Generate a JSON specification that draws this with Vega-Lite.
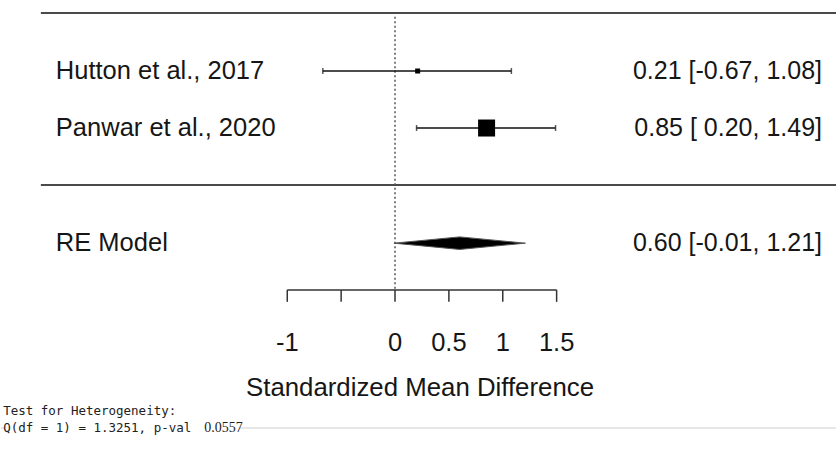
{
  "$schema": "https://vega.github.io/schema/vega-lite/v6.json",
  "width": 837,
  "height": 452,
  "autosize": {"type": "fit", "contains": "padding"},
  "padding": 0,
  "background": "white",
  "config": {"view": {"stroke": null}},
  "datasets": {
    "studies": [
      {"study": "Hutton et al., 2017", "est": 0.21, "lo": -0.67, "hi": 1.08, "row": 2, "weight": 5.0, "ci": "0.21 [-0.67, 1.08]"},
      {"study": "Panwar et al., 2020", "est": 0.85, "lo": 0.20, "hi": 1.49, "row": 1, "weight": 9.2, "ci": "0.85 [ 0.20, 1.49]"}
    ],
    "labels": [
      {"label": "Hutton et al., 2017", "ci": "0.21 [-0.67, 1.08]", "row": 2},
      {"label": "Panwar et al., 2020", "ci": "0.85 [ 0.20, 1.49]", "row": 1},
      {"label": "RE Model", "ci": "0.60 [-0.01, 1.21]", "row": -1.02}
    ],
    "diamond": [
      {"v": -0.01, "top": -1.02, "bot": -1.02},
      {"v": 0.60, "top": -0.91, "bot": -1.13},
      {"v": 1.21, "top": -1.02, "bot": -1.02}
    ],
    "hlines": [
      {"v1": -3.287, "v2": 4.093, "r": 3.02},
      {"v1": -3.287, "v2": 4.093, "r": 0.0}
    ],
    "ticks": [{"v": -1}, {"v": -0.5}, {"v": 0}, {"v": 0.5}, {"v": 1}, {"v": 1.5}],
    "ticklabels": [{"v": -1, "t": "-1"}, {"v": 0, "t": "0"}, {"v": 0.5, "t": "0.5"}, {"v": 1, "t": "1"}, {"v": 1.5, "t": "1.5"}],
    "footer": [
      {"t": "Test for Heterogeneity:", "r": -3.96},
      {"t": "Q(df = 1) = 1.3251, p-val", "r": -4.27}
    ],
    "grayline": [
      {"v1": -3.657, "v2": -3.63, "r": -4.263},
      {"v1": -1.44, "v2": 4.093, "r": -4.263}
    ]
  },
  "layer": [
    {
      "data": {"name": "hlines"},
      "mark": {"type": "rule", "color": "#4a4a4a", "strokeWidth": 2},
      "encoding": {
        "x": {"field": "v1", "type": "quantitative", "scale": {"domain": [-3.657, 4.093], "nice": false, "zero": false}, "axis": null},
        "x2": {"field": "v2"},
        "y": {"field": "r", "type": "quantitative", "scale": {"domain": [-4.684, 3.246], "nice": false, "zero": false}, "axis": null}
      }
    },
    {
      "data": {"name": "grayline"},
      "mark": {"type": "rule", "color": "#cfcfcf", "strokeWidth": 1},
      "encoding": {
        "x": {"field": "v1", "type": "quantitative", "scale": {"domain": [-3.657, 4.093], "nice": false, "zero": false}, "axis": null},
        "x2": {"field": "v2"},
        "y": {"field": "r", "type": "quantitative", "scale": {"domain": [-4.684, 3.246], "nice": false, "zero": false}, "axis": null}
      }
    },
    {
      "data": {"values": [{"v": 0, "r1": 2.95, "r2": -1.84}]},
      "mark": {"type": "rule", "color": "#555555", "strokeWidth": 1.5, "strokeDash": [2, 2.5]},
      "encoding": {
        "x": {"field": "v", "type": "quantitative", "scale": {"domain": [-3.657, 4.093], "nice": false, "zero": false}, "axis": null},
        "y": {"field": "r1", "type": "quantitative", "scale": {"domain": [-4.684, 3.246], "nice": false, "zero": false}, "axis": null},
        "y2": {"field": "r2"}
      }
    },
    {
      "data": {"name": "studies"},
      "mark": {"type": "rule", "color": "#111111", "strokeWidth": 1.5},
      "encoding": {
        "x": {"field": "lo", "type": "quantitative", "scale": {"domain": [-3.657, 4.093], "nice": false, "zero": false}, "axis": null},
        "x2": {"field": "hi"},
        "y": {"field": "row", "type": "quantitative", "scale": {"domain": [-4.684, 3.246], "nice": false, "zero": false}, "axis": null}
      }
    },
    {
      "data": {"name": "studies"},
      "mark": {"type": "tick", "orient": "vertical", "color": "#111111", "size": 6, "thickness": 1.5},
      "encoding": {
        "x": {"field": "lo", "type": "quantitative", "scale": {"domain": [-3.657, 4.093], "nice": false, "zero": false}, "axis": null},
        "y": {"field": "row", "type": "quantitative", "scale": {"domain": [-4.684, 3.246], "nice": false, "zero": false}, "axis": null}
      }
    },
    {
      "data": {"name": "studies"},
      "mark": {"type": "tick", "orient": "vertical", "color": "#111111", "size": 6, "thickness": 1.5},
      "encoding": {
        "x": {"field": "hi", "type": "quantitative", "scale": {"domain": [-3.657, 4.093], "nice": false, "zero": false}, "axis": null},
        "y": {"field": "row", "type": "quantitative", "scale": {"domain": [-4.684, 3.246], "nice": false, "zero": false}, "axis": null}
      }
    },
    {
      "data": {"name": "studies"},
      "mark": {"type": "point", "shape": "square", "filled": true, "color": "#000000", "opacity": 1},
      "encoding": {
        "x": {"field": "est", "type": "quantitative", "scale": {"domain": [-3.657, 4.093], "nice": false, "zero": false}, "axis": null},
        "y": {"field": "row", "type": "quantitative", "scale": {"domain": [-4.684, 3.246], "nice": false, "zero": false}, "axis": null},
        "size": {"field": "weight", "type": "quantitative", "scale": {"domain": [5.0, 9.2], "range": [25, 289], "zero": false}, "legend": null}
      }
    },
    {
      "data": {"name": "diamond"},
      "mark": {"type": "area", "color": "#000000", "opacity": 1, "stroke": "#555555", "strokeWidth": 1},
      "encoding": {
        "x": {"field": "v", "type": "quantitative", "scale": {"domain": [-3.657, 4.093], "nice": false, "zero": false}, "axis": null},
        "y": {"field": "top", "type": "quantitative", "scale": {"domain": [-4.684, 3.246], "nice": false, "zero": false}, "axis": null},
        "y2": {"field": "bot"}
      }
    },
    {
      "data": {"values": [{"a": -1, "b": 1.5, "r": -1.84}]},
      "mark": {"type": "rule", "color": "#333333", "strokeWidth": 1.5},
      "encoding": {
        "x": {"field": "a", "type": "quantitative", "scale": {"domain": [-3.657, 4.093], "nice": false, "zero": false}, "axis": null},
        "x2": {"field": "b"},
        "y": {"field": "r", "type": "quantitative", "scale": {"domain": [-4.684, 3.246], "nice": false, "zero": false}, "axis": null}
      }
    },
    {
      "data": {"name": "ticks"},
      "mark": {"type": "rule", "color": "#333333", "strokeWidth": 1.5},
      "encoding": {
        "x": {"field": "v", "type": "quantitative", "scale": {"domain": [-3.657, 4.093], "nice": false, "zero": false}, "axis": null},
        "y": {"datum": -1.84, "type": "quantitative", "scale": {"domain": [-4.684, 3.246], "nice": false, "zero": false}, "axis": null},
        "y2": {"datum": -2.05}
      }
    },
    {
      "data": {"name": "ticklabels"},
      "mark": {"type": "text", "font": "Liberation Sans", "fontSize": 25.5, "color": "#161616", "align": "center", "baseline": "middle"},
      "encoding": {
        "x": {"field": "v", "type": "quantitative", "scale": {"domain": [-3.657, 4.093], "nice": false, "zero": false}, "axis": null},
        "y": {"datum": -2.77, "type": "quantitative", "scale": {"domain": [-4.684, 3.246], "nice": false, "zero": false}, "axis": null},
        "text": {"field": "t"}
      }
    },
    {
      "data": {"values": [{"t": "Standardized Mean Difference"}]},
      "mark": {"type": "text", "font": "Liberation Sans", "fontSize": 25.8, "color": "#161616", "align": "center", "baseline": "middle"},
      "encoding": {
        "x": {"datum": 0.232, "type": "quantitative", "scale": {"domain": [-3.657, 4.093], "nice": false, "zero": false}, "axis": null},
        "y": {"datum": -3.56, "type": "quantitative", "scale": {"domain": [-4.684, 3.246], "nice": false, "zero": false}, "axis": null},
        "text": {"field": "t"}
      }
    },
    {
      "data": {"name": "labels"},
      "mark": {"type": "text", "font": "Liberation Sans", "fontSize": 25.5, "color": "#161616", "align": "left", "baseline": "middle"},
      "encoding": {
        "x": {"datum": -3.148, "type": "quantitative", "scale": {"domain": [-3.657, 4.093], "nice": false, "zero": false}, "axis": null},
        "y": {"field": "row", "type": "quantitative", "scale": {"domain": [-4.684, 3.246], "nice": false, "zero": false}, "axis": null},
        "text": {"field": "label"}
      }
    },
    {
      "data": {"name": "labels"},
      "mark": {"type": "text", "font": "Liberation Sans", "fontSize": 25, "color": "#161616", "align": "right", "baseline": "middle"},
      "encoding": {
        "x": {"datum": 3.963, "type": "quantitative", "scale": {"domain": [-3.657, 4.093], "nice": false, "zero": false}, "axis": null},
        "y": {"field": "row", "type": "quantitative", "scale": {"domain": [-4.684, 3.246], "nice": false, "zero": false}, "axis": null},
        "text": {"field": "ci"}
      }
    },
    {
      "data": {"name": "footer"},
      "mark": {"type": "text", "font": "DejaVu Sans Mono", "fontSize": 12.5, "color": "#222222", "align": "left", "baseline": "middle"},
      "encoding": {
        "x": {"datum": -3.637, "type": "quantitative", "scale": {"domain": [-3.657, 4.093], "nice": false, "zero": false}, "axis": null},
        "y": {"field": "r", "type": "quantitative", "scale": {"domain": [-4.684, 3.246], "nice": false, "zero": false}, "axis": null},
        "text": {"field": "t"}
      }
    },
    {
      "data": {"values": [{"t": "0.0557", "r": -4.27}]},
      "mark": {"type": "text", "font": "Liberation Sans Narrow", "fontSize": 14, "color": "#222222", "align": "left", "baseline": "middle"},
      "encoding": {
        "x": {"datum": -1.77, "type": "quantitative", "scale": {"domain": [-3.657, 4.093], "nice": false, "zero": false}, "axis": null},
        "y": {"field": "r", "type": "quantitative", "scale": {"domain": [-4.684, 3.246], "nice": false, "zero": false}, "axis": null},
        "text": {"field": "t"}
      }
    }
  ]
}
